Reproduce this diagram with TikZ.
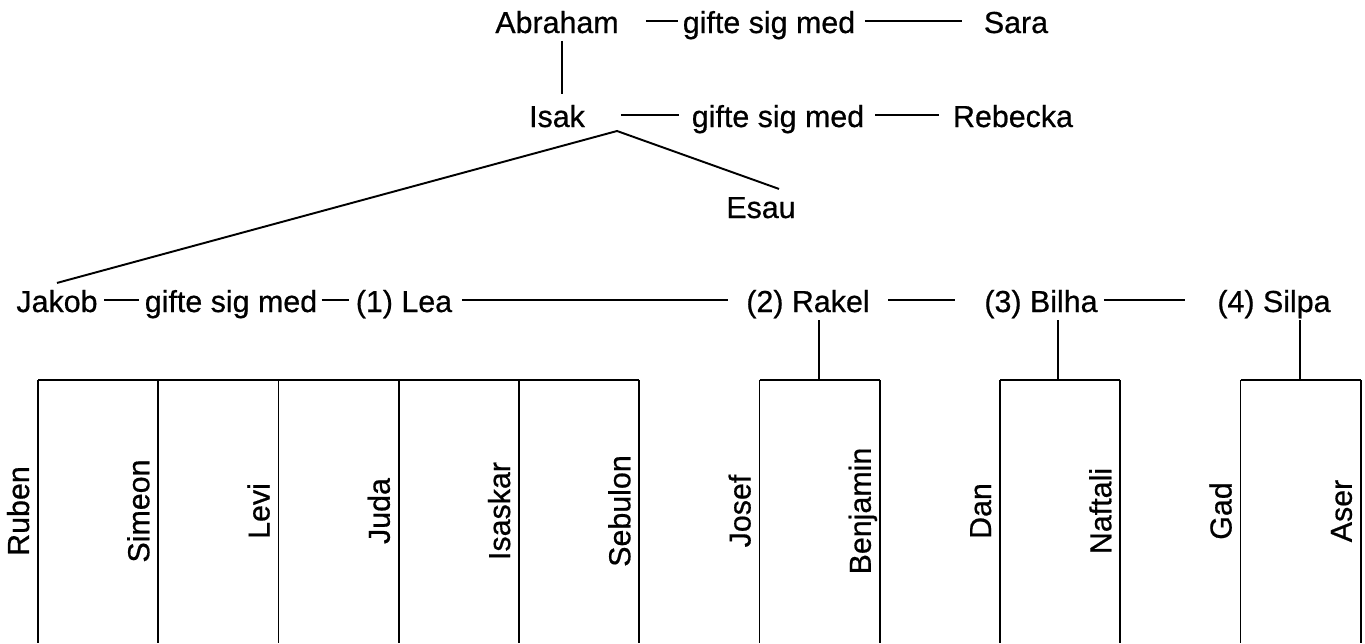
\documentclass[tikz,border=0pt]{standalone}
\usepackage{fontspec}
\setmainfont{Liberation Sans}[FakeBold=0.6]
\usetikzlibrary{positioning}

\begin{document}
\begin{tikzpicture}[x=0.02cm, y=-0.02cm, line width=1.1pt,
	person/.style={anchor=base, inner sep=2pt, text height=14pt, text depth=0pt, font=\fontsize{17.3}{20}\selectfont},
	son/.style={person, rotate=90}]
	\useasboundingbox (0,0) rectangle (1365,643);
	
	% Abraham and Sara
	\node[person] (abraham) at (557,33) {Abraham};
	\node[person] (married1) at (769,33) {gifte sig med};
	\node[person] (sara) at (1016,33) {Sara};
	\draw[shorten <=13pt] (abraham) -- (married1);
	\draw[shorten <=3pt, shorten >=10pt] (married1) -- (sara);
	
	% Isak and Rebecka
	\node[person] (isak) at (557,127) {Isak};
	\node[person] (married2) at (778,127) {gifte sig med};
	\node[person] (rebecka) at (1013,127) {Rebecka};
	\draw[shorten <=18pt, shorten >=5pt] (isak) -- (married2);
	\draw[shorten <=3.7pt, shorten >=5.4pt] (married2) -- (rebecka);
	\draw[shorten <=2pt, shorten >=2pt] ([xshift=0.1cm]abraham.south) -- ([xshift=0.1cm]isak.north);
	
	% Jakob and Esau
	\coordinate (fork) at (617,131);
	\node[person] (esau) at (761,218) {Esau};
	\node[person] (jakob) at (57,312) {Jakob};
	\draw (jakob.north) -- (fork) -- ([xshift=0.36cm]esau.north);
	
	% Jakob and his wives
	\node[person] (married3) at (231,312) {gifte sig med};
	\node[person] (lea) at (404,312) {(1) Lea};
	\node[person] (rakel) at (808,312) {(2) Rakel};
	\node[person] (bilha) at (1041,312) {(3) Bilha};
	\node[person] (silpa) at (1274,312) {(4) Silpa};
	\draw[shorten <=1.4pt, shorten >=1pt] (jakob) -- (married3);
	\draw[shorten >=1.5pt] (married3) -- (lea);
	\draw[shorten <=3pt, shorten >=7.7pt] (lea) -- (rakel);
	\draw[shorten <=8pt, shorten >=14pt] (rakel) -- (bilha);
	\draw[shorten <=1pt, shorten >=16pt] (bilha) -- (silpa);
	
	% The twelve sons
	\foreach \son [count=\k from 0] in {Ruben,Simeon,Levi,Juda,Isaskar,Sebulon,Josef,Benjamin,Dan,Naftali,Gad,Aser}{
		\coordinate (top\k) at ({38+120.25*\k},380);
		\draw (top\k) -- ++(0,263);
		\node[son] (\son) at ({38+120.25*\k-9},511) {\son};
	}
	\draw (top0) -- (top5);
	\draw (top6) -- (top7);
	\draw (top8) -- (top9);
	\draw (top10) -- (top11);
	
	% From mother to children
	\coordinate (rakelkids) at (819,380);
	\coordinate (bilhakids) at (1058,380);
	\coordinate (silpakids) at (1300,380);
	\draw[shorten <=2pt] (rakel.south -| rakelkids) -- (rakelkids);
	\draw[shorten <=2pt] (bilha.south -| bilhakids) -- (bilhakids);
	\draw[shorten <=2pt] (silpa.south -| silpakids) -- (silpakids);
\end{tikzpicture}
\end{document}
